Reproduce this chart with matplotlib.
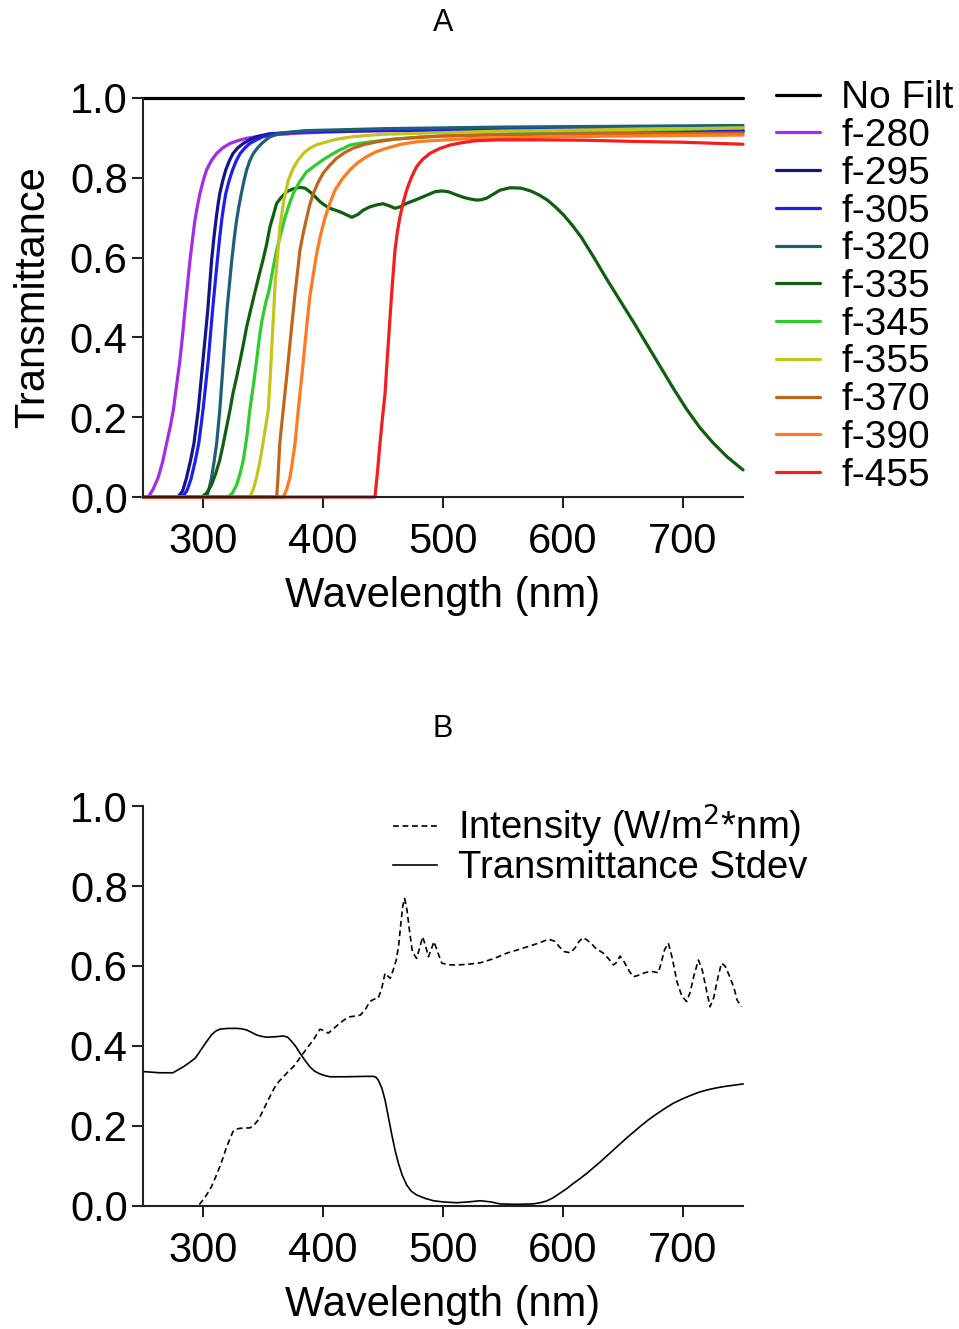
import numpy as np
import matplotlib.pyplot as plt
from matplotlib.ticker import FormatStrFormatter

plt.rcParams['font.family'] = ['Liberation Sans', 'DejaVu Sans']

# ---- panel A: filter transmittance ----
filter_names = ['No Filt', 'f-280', 'f-295', 'f-305', 'f-320', 'f-335',
                'f-345', 'f-355', 'f-370', 'f-390', 'f-455']
filter_colors = ['#000000', '#A52BE8', '#14148A', '#1E1EF0', '#1E5F78', '#0F5F0F',
                 '#2ECC2E', '#C4C41E', '#C0661C', '#FF7A22', '#F51E1E']

wl_nofilt = [250, 750]
t_nofilt = [1.0, 1.0]

wl_280 = [250, 254.4, 258.5, 262.8, 266.5, 269.7, 272.7, 275.3, 278, 280.8, 283, 285, 287.1, 289.2, 291.3, 293.3,
          295.4, 297.5, 300.2, 303, 307, 311.4, 316.5, 322.5, 329, 336.4, 345, 355.8, 380, 420, 500, 600, 700, 750]
t_280 = [0, 0, 0.02, 0.05, 0.09, 0.135, 0.176, 0.218, 0.28, 0.343, 0.406, 0.469, 0.532, 0.594, 0.647, 0.694,
         0.73, 0.761, 0.793, 0.82, 0.843, 0.861, 0.875, 0.886, 0.893, 0.899, 0.903, 0.907, 0.912, 0.916, 0.92, 0.919, 0.918, 0.917]

wl_295 = [250, 279, 283, 286, 289.5, 292.5, 296, 298, 300, 302, 304, 305.6, 307.2, 309, 310.8, 312.4, 314, 316.5, 319,
          322, 325, 329, 333.6, 339, 344.7, 355, 380, 450, 550, 650, 750]
t_295 = [0, 0, 0.015, 0.045, 0.09, 0.135, 0.218, 0.28, 0.343, 0.406, 0.469, 0.532, 0.594, 0.647, 0.694, 0.73,
         0.761, 0.793, 0.82, 0.843, 0.861, 0.875, 0.886, 0.895, 0.903, 0.91, 0.915, 0.919, 0.92, 0.918, 0.916]

wl_305 = [250, 282.5, 286.5, 290, 293.5, 296.5, 300, 302.2, 304.4, 306.2, 308, 310, 312, 313.8, 315.6, 317.3, 319, 321.8,
          324.7, 327.8, 331, 335, 339, 344.5, 350, 360, 385, 450, 550, 650, 750]
t_305 = [0, 0, 0.015, 0.045, 0.09, 0.135, 0.218, 0.28, 0.343, 0.406, 0.469, 0.532, 0.594, 0.647, 0.694, 0.73,
         0.761, 0.793, 0.82, 0.843, 0.861, 0.875, 0.886, 0.895, 0.903, 0.91, 0.916, 0.92, 0.921, 0.92, 0.919]

wl_320 = [250, 303, 305, 307.2, 309.3, 311.4, 314, 315.5, 317, 318.5, 320, 322, 324, 326, 328, 330, 332, 334.2,
          336.4, 339, 342, 345.5, 349, 352.5, 356, 365, 385, 450, 550, 650, 750]
t_320 = [0, 0, 0.02, 0.05, 0.09, 0.135, 0.218, 0.28, 0.343, 0.406, 0.469, 0.532, 0.594, 0.647, 0.694, 0.73,
         0.761, 0.793, 0.82, 0.843, 0.861, 0.875, 0.886, 0.895, 0.903, 0.912, 0.918, 0.923, 0.927, 0.929, 0.931]

wl_335 = [250, 299, 303, 307, 310.5, 314, 317, 319.7, 322.5, 325, 328, 331, 333.8, 336.4, 339.8, 343, 346.5, 350, 353,
          355.8, 358.5, 361.4, 365.5, 369.7, 375, 380.8, 385, 389, 393, 397.5, 401.5, 405.8, 410, 414, 419, 424, 429,
          433.6, 439, 444.7, 450, 455, 460, 465, 469.7, 475, 480.8, 487, 493.3, 499, 504.4, 510.5, 517, 522.5, 528,
          532, 536.4, 542, 547.5, 556, 565, 573, 580, 587, 594, 601, 608, 615, 625, 636, 648, 659, 670, 681, 692,
          703, 714, 725, 737, 750]
t_335 = [0, 0, 0.01, 0.03, 0.058, 0.093, 0.135, 0.176, 0.218, 0.26, 0.3, 0.343, 0.385, 0.427, 0.47, 0.51, 0.553, 0.594, 0.633,
         0.677, 0.705, 0.736, 0.752, 0.765, 0.772, 0.776, 0.774, 0.765, 0.754, 0.74, 0.731, 0.7235, 0.719, 0.715, 0.708, 0.701, 0.708,
         0.719, 0.727, 0.732, 0.735, 0.73, 0.7235, 0.728, 0.736, 0.742, 0.749, 0.757, 0.765, 0.767, 0.765, 0.758, 0.751, 0.747, 0.744,
         0.745, 0.749, 0.759, 0.769, 0.775, 0.774, 0.767, 0.757, 0.744, 0.726, 0.705, 0.68, 0.652, 0.604, 0.548, 0.49, 0.437, 0.382, 0.327, 0.272,
         0.22, 0.174, 0.136, 0.1, 0.068]

wl_345 = [250, 321, 324.5, 328, 331, 333.6, 336.5, 339, 342, 344.7, 347, 349, 351, 352.5, 354.4, 355.8, 358.5, 361.4,
          364.8, 368.3, 371.8, 375.3, 380.5, 386.4, 393, 400, 407, 414, 418, 422.5, 430, 440, 453, 480, 550, 650, 750]
t_345 = [0, 0, 0.01, 0.03, 0.06, 0.093, 0.15, 0.218, 0.28, 0.343, 0.4, 0.44, 0.469, 0.49, 0.51, 0.53, 0.575, 0.619,
         0.66, 0.7, 0.733, 0.761, 0.79, 0.815, 0.83, 0.845, 0.858, 0.87, 0.875, 0.882, 0.886, 0.89, 0.895, 0.902, 0.91, 0.918, 0.925]

wl_355 = [250, 339, 342, 344.7, 347.5, 350, 352.2, 354.4, 356, 357.5, 359, 360, 362, 364, 367.5, 371, 375, 379.4,
          384, 389, 395, 403, 412, 425, 450, 550, 650, 750]
t_355 = [0, 0, 0.02, 0.05, 0.09, 0.135, 0.176, 0.218, 0.3, 0.385, 0.469, 0.53, 0.6, 0.675, 0.745, 0.793, 0.823, 0.845,
         0.862, 0.874, 0.883, 0.89, 0.897, 0.903, 0.909, 0.917, 0.921, 0.925]

wl_370 = [250, 361.4, 362.5, 364, 366.2, 368.3, 370.4, 372.5, 374.6, 376.7, 378.8, 380.8, 383.6, 386.4, 389, 392,
          396, 400, 405.5, 411.4, 418, 425, 434, 444.7, 460, 500, 600, 750]
t_370 = [0, 0, 0.05, 0.135, 0.2, 0.26, 0.322, 0.385, 0.448, 0.51, 0.565, 0.619, 0.662, 0.7, 0.733, 0.761, 0.789,
         0.811, 0.831, 0.849, 0.863, 0.874, 0.883, 0.89, 0.897, 0.905, 0.91, 0.912]

wl_390 = [250, 367, 369.8, 372.5, 374.6, 376.7, 378.8, 380.8, 383, 385, 387, 389, 391.8, 394.7, 398, 401.7, 405.8,
          410, 416, 422.5, 429, 436.4, 444, 453, 465, 480, 520, 600, 700, 750]
t_390 = [0, 0, 0.02, 0.05, 0.09, 0.135, 0.2, 0.26, 0.322, 0.385, 0.445, 0.502, 0.556, 0.61, 0.657, 0.70, 0.737,
         0.769, 0.797, 0.82, 0.838, 0.853, 0.865, 0.874, 0.884, 0.891, 0.898, 0.903, 0.906, 0.907]

wl_455 = [250, 443.3, 445.3, 447.5, 449.6, 451.7, 453, 454.4, 455.8, 457.2, 458.6, 460, 462, 464, 466.8, 469.7,
          473.5, 478, 483, 489, 497, 505.8, 516, 528, 547.5, 580, 620, 660, 700, 750]
t_455 = [0, 0, 0.06, 0.135, 0.2, 0.26, 0.322, 0.385, 0.448, 0.51, 0.565, 0.619, 0.665, 0.70, 0.738, 0.769,
         0.8, 0.828, 0.846, 0.861, 0.873, 0.882, 0.888, 0.893, 0.895, 0.895, 0.894, 0.891, 0.889, 0.884]

filter_wl = [wl_nofilt, wl_280, wl_295, wl_305, wl_320, wl_335, wl_345, wl_355, wl_370, wl_390, wl_455]
filter_t = [t_nofilt, t_280, t_295, t_305, t_320, t_335, t_345, t_355, t_370, t_390, t_455]

# ---- panel B: lamp intensity and transmittance stdev ----
wl_int = [250, 280, 296, 300, 303.5, 307, 310.5, 314, 317, 319.7, 322.5, 325, 327.5, 330.8, 335, 339, 342.5, 346,
          349.5, 353, 356.5, 360, 363.5, 367, 371, 375.3, 379.5, 383.6, 388, 392, 395, 397.5, 401, 404.4, 409, 414,
          418, 422.5, 427, 431, 435, 439, 442.5, 446, 449, 451.7, 454, 456, 458.5, 461, 463, 465, 466.5, 468,
          470, 472, 474.5, 478, 480.5, 483, 485.5, 487.8, 490, 492.5, 495.5, 499, 505, 511, 520, 531, 542, 553,
          564, 575, 582, 588, 593, 597, 601, 606, 610, 613, 616.5, 620, 624, 627, 630.5, 633.6, 638, 642, 645,
          647.5, 651, 655, 658.6, 663, 668, 672, 675, 679.4, 682, 684.5, 687.8, 691, 695, 699, 703, 706, 709,
          712.8, 716, 719.5, 722.5, 725.5, 729, 732, 735, 738, 740, 742.5, 745, 748.6]
intensity = [0, 0, 0, 0.015, 0.03, 0.048, 0.072, 0.098, 0.123, 0.148, 0.168, 0.186, 0.192, 0.194, 0.195, 0.195, 0.202, 0.215,
             0.235, 0.257, 0.278, 0.298, 0.312, 0.323, 0.336, 0.348, 0.365, 0.382, 0.4, 0.415, 0.43, 0.442, 0.438, 0.432, 0.444, 0.457,
             0.466, 0.473, 0.475, 0.477, 0.49, 0.511, 0.517, 0.519, 0.545, 0.582, 0.575, 0.569, 0.59, 0.615, 0.65, 0.71, 0.75, 0.769,
             0.74, 0.69, 0.635, 0.619, 0.645, 0.673, 0.65, 0.623, 0.64, 0.661, 0.635, 0.607, 0.603, 0.6025, 0.604, 0.608, 0.618, 0.632,
             0.642, 0.6525, 0.66, 0.667, 0.662, 0.648, 0.636, 0.633, 0.645, 0.66, 0.671, 0.665, 0.655, 0.645, 0.638, 0.632, 0.618, 0.6025, 0.61,
             0.625, 0.61, 0.588, 0.573, 0.577, 0.583, 0.586, 0.586, 0.583, 0.61, 0.64, 0.657, 0.62, 0.56, 0.525, 0.511, 0.535, 0.575,
             0.615, 0.59, 0.54, 0.498, 0.52, 0.57, 0.607, 0.6, 0.58, 0.565, 0.545, 0.515, 0.498]

wl_std = [250, 264, 275, 283.6, 288.5, 293.3, 296.5, 300, 303.5, 307, 310.5, 314, 321, 328, 332, 336.4, 340.5, 344.7,
          349, 353, 360, 367, 370.5, 374, 377.5, 380.8, 385, 389, 393, 397.5, 401.5, 405.8, 420, 435, 442, 444,
          446, 449, 451.7, 454.5, 457.2, 460, 462.8, 466, 469.7, 473.5, 478, 485, 492, 500, 511.4, 521, 531,
          540, 547.5, 560, 575, 581, 586, 591.5, 597.5, 603, 608, 614, 620, 625.5, 631, 636.5, 642, 647.5,
          653, 658.5, 664, 671, 678, 685, 692, 699, 706, 713, 720, 727.5, 735, 742.5, 750]
t_std = [0.336, 0.333, 0.333, 0.348, 0.358, 0.369, 0.382, 0.398, 0.413, 0.4275, 0.437, 0.442, 0.444, 0.444, 0.443, 0.44, 0.434, 0.4275,
         0.424, 0.422, 0.423, 0.425, 0.422, 0.411, 0.398, 0.382, 0.364, 0.348, 0.337, 0.33, 0.326, 0.323, 0.323, 0.324, 0.324, 0.322,
         0.315, 0.295, 0.265, 0.222, 0.18, 0.14, 0.107, 0.077, 0.0525, 0.037, 0.0275, 0.019, 0.013, 0.01, 0.008, 0.01, 0.013,
         0.01, 0.005, 0.004, 0.005, 0.008, 0.012, 0.02, 0.032, 0.043, 0.055, 0.068, 0.082, 0.096, 0.11, 0.125, 0.14, 0.155,
         0.17, 0.184, 0.198, 0.215, 0.23, 0.244, 0.257, 0.267, 0.276, 0.284, 0.29, 0.295, 0.299, 0.302, 0.305]

fig = plt.figure(figsize=(9.59, 13.29), dpi=100)
axA = fig.add_axes([0.1491, 0.626, 0.6257, 0.3003])
axB = fig.add_axes([0.1491, 0.0926, 0.6257, 0.3009])

for name, col, x, y in zip(filter_names, filter_colors, filter_wl, filter_t):
    axA.plot(x, y, color=col, lw=2.3, label=name, clip_on=False,
             solid_joinstyle='round', solid_capstyle='round')

axB.plot(wl_int, intensity, color='black', lw=1.2, dashes=(3.5, 2.2),
         label='Intensity (W/m$^2$*nm)', clip_on=False)
axB.plot(wl_std, t_std, color='black', lw=1.2, label='Transmittance Stdev', clip_on=False)

for ax, ttl in [(axA, 'A'), (axB, 'B')]:
    ax.set_xlim(250, 750)
    ax.set_ylim(0, 1.0)
    ax.set_xticks([300, 400, 500, 600, 700])
    ax.set_yticks(np.arange(0, 1.01, 0.2))
    ax.yaxis.set_major_formatter(FormatStrFormatter('%.1f'))
    ax.spines['top'].set_visible(False)
    ax.spines['right'].set_visible(False)
    for s in ['left', 'bottom']:
        ax.spines[s].set_linewidth(1.5)
        ax.spines[s].set_color('#222222')
    ax.tick_params(direction='out', length=8, width=1.5, labelsize=30, color='#222222')
    ax.tick_params(axis='x', pad=10)
    ax.tick_params(axis='y', pad=3)
    ax.set_xlabel('Wavelength (nm)', fontsize=30, labelpad=10)

axA.set_title('A', fontsize=22, pad=48)
axB.set_title('B', fontsize=22, pad=50)
axA.set_ylabel('Transmittance', fontsize=30, labelpad=12)

axA.legend(loc='center left', bbox_to_anchor=(776 / 959, 1 - 287 / 1329),
           bbox_transform=fig.transFigure, frameon=False, fontsize=28,
           borderpad=0, borderaxespad=0, handlelength=1.13, handletextpad=0.55,
           labelspacing=0.045)
axB.legend(loc='center left', bbox_to_anchor=(393 / 959, 1 - 844.5 / 1329),
           bbox_transform=fig.transFigure, frameon=False, fontsize=27.5,
           borderpad=0, borderaxespad=0, handlelength=1.15, handletextpad=0.55,
           labelspacing=0.0)

fig.savefig('out.png', dpi=100)
